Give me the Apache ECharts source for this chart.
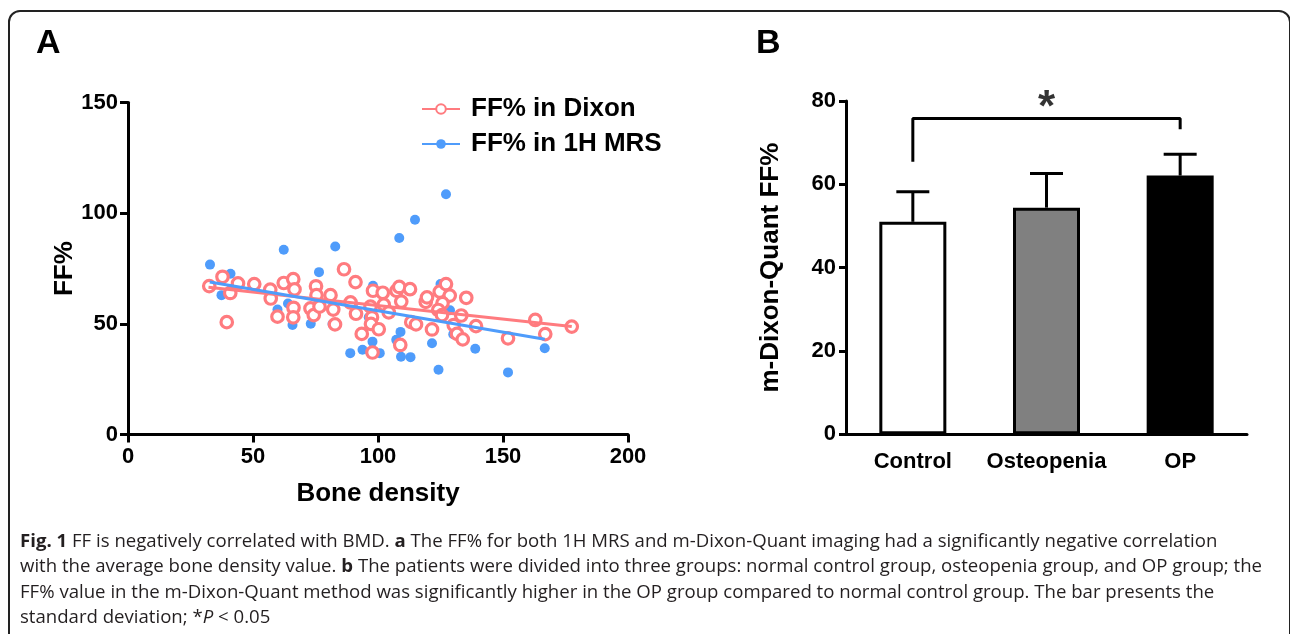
<!DOCTYPE html>
<html>
<head>
<meta charset="UTF-8">
<title>FF vs BMD</title>
<script src="https://cdn.jsdelivr.net/npm/echarts@6.0.0/dist/echarts.min.js"></script>
<style>
	body { margin: 0; background: #fff; }
	#frame { position: absolute; left: 8px; top: 10px; width: 1283px; height: 700px; box-sizing: border-box;
		border: 2px solid #222; border-radius: 12px; }
	#graph { position: absolute; left: 0; top: 0; width: 1290px; height: 634px; }
	#cap { position: absolute; left: 20px; top: 527px; font-family: "Open Sans", sans-serif; font-size: 18.6px;
		line-height: 25.3px; color: #231f20; white-space: nowrap; }
</style>
</head>
<body>
<div id="frame"></div>
<div id="graph"></div>
<div id="cap"><b>Fig. 1</b> FF is negatively correlated with BMD. <b>a</b> The FF% for both 1H MRS and m-Dixon-Quant imaging had a significantly negative correlation<br>with the average bone density value. <b>b</b> The patients were divided into three groups: normal control group, osteopenia group, and OP group; the<br>FF% value in the m-Dixon-Quant method was significantly higher in the OP group compared to normal control group. The bar presents the<br>standard deviation; *<i>P</i> &lt; 0.05</div>
<script>
	// panel A: [bone density, FF%]
	var dixonPoints = [
		[32.5, 67.1], [37.8, 71.3], [40.9, 64], [44, 68.3], [39.5, 50.8], [50.5, 68], [56.9, 65.5], [57.1, 61.5],
		[59.8, 53.3], [62.3, 68.5], [66.1, 70.2], [66.6, 65.6], [66.2, 57.3], [66.1, 53], [75.2, 67], [75.4, 63],
		[73, 57], [74.3, 54], [76.6, 57.8], [81, 63], [82.1, 56.5], [82.8, 49.8], [86.4, 74.7], [89, 59.7],
		[91, 68.9], [91.2, 54.6], [93.5, 45.5], [97, 57.8], [98, 65], [97.6, 53], [97.2, 50], [97.8, 37.1],
		[100.3, 47.6], [101.9, 64.1], [102.3, 58.7], [104.3, 55.2], [107.4, 65], [108.5, 66.7], [109.3, 60.1],
		[108.9, 40.5], [112.8, 65.7], [113.3, 50.8], [115.2, 49.8], [119.1, 60], [119.6, 62], [121.6, 47.5],
		[124.7, 64.6], [127.2, 68], [128.7, 62.8], [125.8, 59.4], [124.1, 56.3], [125.6, 54], [130.3, 49.5],
		[133.3, 53.8], [131.6, 45.5], [133.9, 43], [135.3, 61.8], [139.2, 49], [152, 43.5], [162.9, 51.8],
		[166.9, 45.4], [177.5, 48.8]
	];
	var mrsPoints = [
		[32.8, 76.8], [41, 72.7], [37.4, 63], [62.3, 83.5], [76.4, 73.4], [59.8, 56.5], [64, 59.2], [65.8, 49.5],
		[73.1, 50.1], [81.8, 50], [82.9, 85], [98, 67.2], [91, 69], [90, 59], [96.3, 53], [88.9, 36.8],
		[93.8, 38.3], [97.8, 42], [100.7, 36.8], [108.5, 88.8], [114.8, 97.1], [127.2, 108.6], [125, 68],
		[119.2, 61.6], [128.8, 56.2], [109, 46.4], [107.3, 42.8], [109.2, 35.2], [113, 35], [121.6, 41.3],
		[124.2, 29.3], [130.1, 45.3], [138.9, 38.8], [152, 28.1], [166.7, 39], [125, 55.5]
	];
	var dixonFit = [[32.2, 66.6], [177.5, 48.8]];
	var mrsFit = [[32.7, 68.9], [166.7, 43.1]];
	var xTicks = [0, 50, 100, 150, 200];
	var yTicksA = [0, 50, 100, 150];

	// panel B
	var groups = ['Control', 'Osteopenia', 'OP'];
	var groupMeans = [51, 54.4, 62.1];
	var groupUpper = [58.2, 62.6, 67.2];
	var barFills = ['#ffffff', '#808080', '#000000'];
	var bracket = [[0, 65.4], [0, 75.8], [2, 75.8], [2, 73.2]];
	var starAt = [[1, 80]];

	var pink = '#ff7b7f';
	var blue = '#4f9cfb';
	var font = 'Liberation Sans';
	var black = { color: '#000', width: 3 };

	var chart = echarts.init(document.getElementById('graph'), null, { renderer: 'canvas' });
	var axLabel = { color: '#000', fontFamily: font, fontWeight: 'bold', fontSize: 22 };
	var nameStyle = { color: '#000', fontFamily: font, fontWeight: 'bold', fontSize: 26 };

	chart.setOption({
		animation: false,
		title: [
			{ text: 'A', left: 31, top: 22, textStyle: { fontFamily: font, fontWeight: 'bold', fontSize: 34, color: '#000' } },
			{ text: 'B', left: 751, top: 22, textStyle: { fontFamily: font, fontWeight: 'bold', fontSize: 34, color: '#000' } }
		],
		legend: {
			orient: 'vertical', left: 416, top: 91, itemWidth: 38, itemHeight: 12, itemGap: 9,
			data: ['FF% in Dixon', 'FF% in 1H MRS'],
			textStyle: { color: '#000', fontFamily: font, fontWeight: 'bold', fontSize: 26, padding: [0, 0, 0, 6] }
		},
		grid: [
			{ left: 128, top: 102.6, width: 500, height: 332 },
			{ left: 846, top: 101, width: 401, height: 333.3 }
		],
		xAxis: [
			{
				gridIndex: 0, type: 'value', min: xTicks[0], max: xTicks[xTicks.length - 1], interval: 50,
				name: 'Bone density', nameLocation: 'middle', nameGap: 46, nameTextStyle: nameStyle,
				axisLine: { onZero: false, lineStyle: black }, axisTick: { length: 8, lineStyle: black },
				axisLabel: Object.assign({ margin: 11 }, axLabel), splitLine: { show: false }
			},
			{
				gridIndex: 1, type: 'category', data: groups,
				axisLine: { lineStyle: black }, axisTick: { show: false },
				axisLabel: Object.assign({ margin: 17, interval: 0 }, axLabel)
			}
		],
		yAxis: [
			{
				gridIndex: 0, type: 'value', min: yTicksA[0], max: yTicksA[yTicksA.length - 1], interval: 50,
				name: 'FF%', nameLocation: 'middle', nameGap: 24, nameRotate: 90, nameTextStyle: nameStyle,
				axisLine: { show: true, onZero: false, lineStyle: black }, axisTick: { show: true, length: 8, lineStyle: black },
				axisLabel: Object.assign({ margin: 10 }, axLabel), splitLine: { show: false }
			},
			{
				gridIndex: 1, type: 'value', min: 0, max: 80, interval: 20,
				name: 'm-Dixon-Quant FF%', nameLocation: 'middle', nameGap: 62, nameRotate: 90, nameTextStyle: nameStyle,
				axisLine: { show: true, lineStyle: black }, axisTick: { show: true, length: 7, lineStyle: black },
				axisLabel: Object.assign({ margin: 10 }, axLabel), splitLine: { show: false }
			}
		],
		series: [
			{
				name: 'FF% in Dixon', type: 'line', xAxisIndex: 0, yAxisIndex: 0, data: dixonFit,
				symbol: 'emptyCircle', symbolSize: 12, showSymbol: false, z: 3,
				lineStyle: { color: pink, width: 3 }, itemStyle: { color: pink, borderWidth: 3 }
			},
			{
				name: 'FF% in 1H MRS', type: 'line', xAxisIndex: 0, yAxisIndex: 0, data: mrsFit,
				symbol: 'circle', symbolSize: 10, showSymbol: false, z: 3,
				lineStyle: { color: blue, width: 3 }, itemStyle: { color: blue }
			},
			{
				name: 'mrs-pts', type: 'scatter', xAxisIndex: 0, yAxisIndex: 0, data: mrsPoints,
				symbolSize: 10, z: 1, itemStyle: { color: blue, opacity: 1 }
			},
			{
				name: 'dixon-pts', type: 'scatter', xAxisIndex: 0, yAxisIndex: 0, data: dixonPoints,
				symbolSize: 11.5, z: 2, itemStyle: { color: '#fff', borderColor: pink, borderWidth: 3.2, opacity: 1 }
			},
			{
				type: 'bar', xAxisIndex: 1, yAxisIndex: 1, barWidth: 67,
				data: groupMeans.map(function (v, i) { return { value: v, itemStyle: { color: barFills[i] } }; }),
				itemStyle: { borderColor: '#000', borderWidth: 3 }
			},
			{
				type: 'custom', xAxisIndex: 1, yAxisIndex: 1, z: 5,
				data: groups.map(function (g, i) { return [i, groupMeans[i], groupUpper[i]]; }),
				encode: { x: 0, y: [1, 2] },
				renderItem: function (params, api) {
					var base = api.coord([api.value(0), api.value(1)]);
					var top = api.coord([api.value(0), api.value(2)]);
					var st = { stroke: '#000', lineWidth: 3 };
					return {
						type: 'group', children: [
							{ type: 'line', shape: { x1: base[0], y1: base[1], x2: top[0], y2: top[1] }, style: st },
							{ type: 'line', shape: { x1: top[0] - 16.5, y1: top[1], x2: top[0] + 16.5, y2: top[1] }, style: st }
						]
					};
				}
			},
			{
				type: 'line', xAxisIndex: 1, yAxisIndex: 1, data: bracket, symbol: 'none',
				lineStyle: { color: '#000', width: 3 }
			},
			{
				type: 'scatter', xAxisIndex: 1, yAxisIndex: 1, data: starAt, symbol: 'circle', symbolSize: 1, clip: false,
				itemStyle: { color: 'rgba(0,0,0,0)' },
				label: {
					show: true, position: 'inside', formatter: '*', color: '#000', fontFamily: font,
					fontWeight: 'bold', fontSize: 44, offset: [0, 8]
				}
			}
		]
	});
</script>
</body>
</html>
